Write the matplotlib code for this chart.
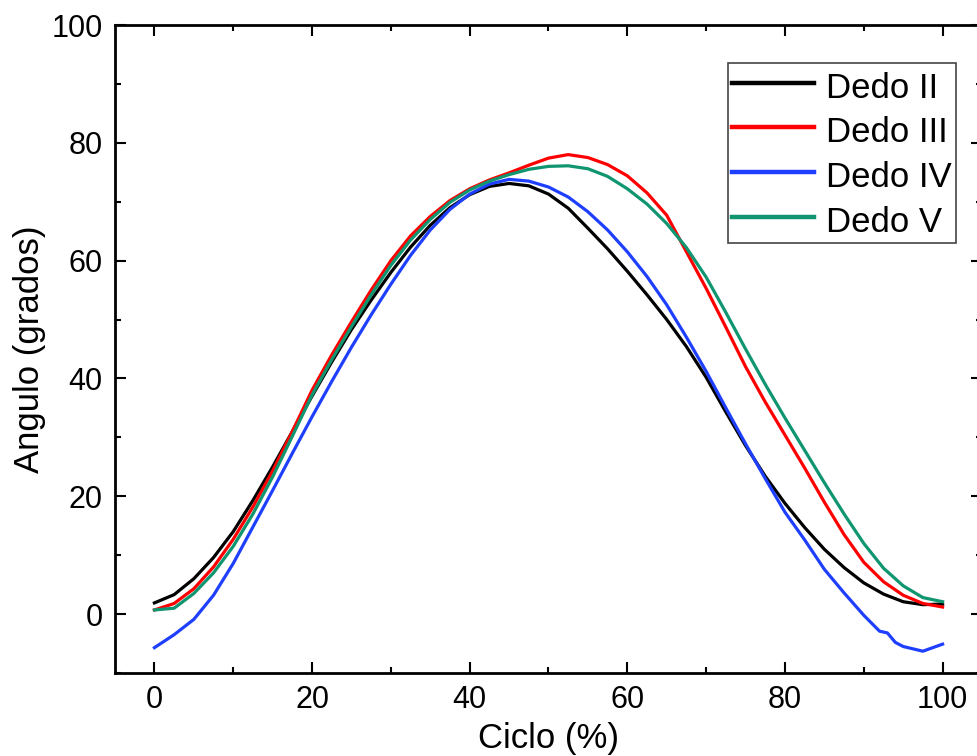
import numpy as np
import matplotlib
matplotlib.use("Agg")
import matplotlib.pyplot as plt
from matplotlib.ticker import MultipleLocator

plt.rcParams['font.family'] = ['Liberation Sans', 'DejaVu Sans']

# ciclo (%) - eje x comun
ciclo = [0, 2.5, 5, 7.5, 10, 12.5, 15, 17.5, 20, 22.5, 25, 27.5, 30, 32.5, 35,
         37.5, 40, 42.5, 45, 47.5, 50, 52.5, 55, 57.5, 60, 62.5, 65, 67.5, 70,
         72.5, 75, 77.5, 80, 82.5, 85, 87.5, 90, 92.5, 95, 97.5, 100]

dedo_ii = [1.9, 3.3, 6.0, 9.6, 14.0, 19.3, 25.0, 31.0, 37.0, 42.8, 48.3, 53.3,
           58.0, 62.3, 66.0, 69.0, 71.2, 72.6, 73.1, 72.7, 71.3, 68.9, 65.5,
           62.0, 58.2, 54.2, 50.0, 45.4, 40.2, 34.3, 28.6, 23.4, 18.8, 14.7,
           11.0, 7.9, 5.3, 3.4, 2.1, 1.6, 1.7]

dedo_iii = [0.7, 1.8, 4.3, 8.0, 12.7, 18.2, 24.3, 31.0, 38.0, 44.0, 49.6, 55.0,
            60.0, 64.2, 67.5, 70.2, 72.2, 73.7, 74.9, 76.2, 77.4, 78.0, 77.5,
            76.3, 74.4, 71.5, 67.7, 61.5, 55.3, 48.7, 42.0, 36.0, 30.4, 24.8,
            19.0, 13.5, 8.8, 5.5, 3.2, 1.8, 1.2]

dedo_v = [0.7, 1.0, 3.5, 7.0, 11.5, 17.0, 23.3, 30.2, 37.2, 43.2, 48.8, 54.2,
          59.2, 63.5, 67.0, 69.9, 72.0, 73.5, 74.6, 75.5, 76.0, 76.1, 75.6,
          74.3, 72.2, 69.6, 66.3, 62.2, 57.2, 51.2, 45.0, 39.0, 33.3, 27.8,
          22.3, 17.0, 12.0, 7.8, 4.8, 2.8, 2.1]

# dedo IV tiene mas puntos al final (ondulacion)
ciclo_iv = [0, 2.5, 5, 7.5, 10, 12.5, 15, 17.5, 20, 22.5, 25, 27.5, 30, 32.5,
            35, 37.5, 40, 42.5, 45, 47.5, 50, 52.5, 55, 57.5, 60, 62.5, 65,
            67.5, 70, 72.5, 75, 77.5, 80, 82.5, 85, 87.5, 90, 92, 93, 94, 95,
            97.5, 100]
dedo_iv = [-5.7, -3.5, -0.9, 3.2, 8.6, 14.8, 21.0, 27.3, 33.5, 39.5, 45.3, 50.8,
           56.0, 60.9, 65.2, 68.7, 71.3, 73.0, 73.8, 73.5, 72.5, 70.8, 68.3,
           65.2, 61.5, 57.3, 52.5, 47.0, 41.2, 35.0, 28.9, 23.0, 17.3, 12.6,
           7.6, 3.6, -0.2, -2.9, -3.2, -4.8, -5.5, -6.3, -5.1]

fig = plt.figure(figsize=(9.78, 7.56), dpi=100)
# el eje derecho queda justo fuera de la imagen (como en el original)
ax = fig.add_axes([115/978, 83/756, 867/978, 648/756])

lw = 2.3
ax.plot(ciclo, dedo_ii, color='black', lw=lw, label='Dedo II')
ax.plot(ciclo, dedo_iii, color='#ff0000', lw=lw, label='Dedo III')
ax.plot(ciclo_iv, dedo_iv, color='#1f3fff', lw=lw, label='Dedo IV')
ax.plot(ciclo, dedo_v, color='#0f9570', lw=lw, label='Dedo V')

ax.set_xlim(-5, 105)
ax.set_ylim(-10, 100)
ax.set_xticks([0, 20, 40, 60, 80, 100])
ax.set_yticks([0, 20, 40, 60, 80, 100])
ax.xaxis.set_minor_locator(MultipleLocator(10))
ax.yaxis.set_minor_locator(MultipleLocator(10))

ax.tick_params(which='both', direction='in', top=True, right=True, width=1.5,
               labelsize=22, pad=9)
ax.tick_params(which='major', length=8)
ax.tick_params(which='minor', length=4.5)
for s in ax.spines.values():
    s.set_linewidth(2)

ax.set_xlabel('Ciclo (%)', fontsize=25, labelpad=5)
ax.set_ylabel('Angulo (grados)', fontsize=25, labelpad=4)

leg = ax.legend(loc='upper right', bbox_to_anchor=(0.97, 0.941), borderaxespad=0,
                fontsize=25, fancybox=False, framealpha=1, edgecolor='#444444',
                handlelength=2.35, handletextpad=0.35, labelspacing=0.21,
                handleheight=1.28, borderpad=0.12)
leg.get_frame().set_linewidth(1.2)
for line in leg.get_lines():
    line.set_linewidth(3.2)

fig.savefig('out.png', dpi=100)
